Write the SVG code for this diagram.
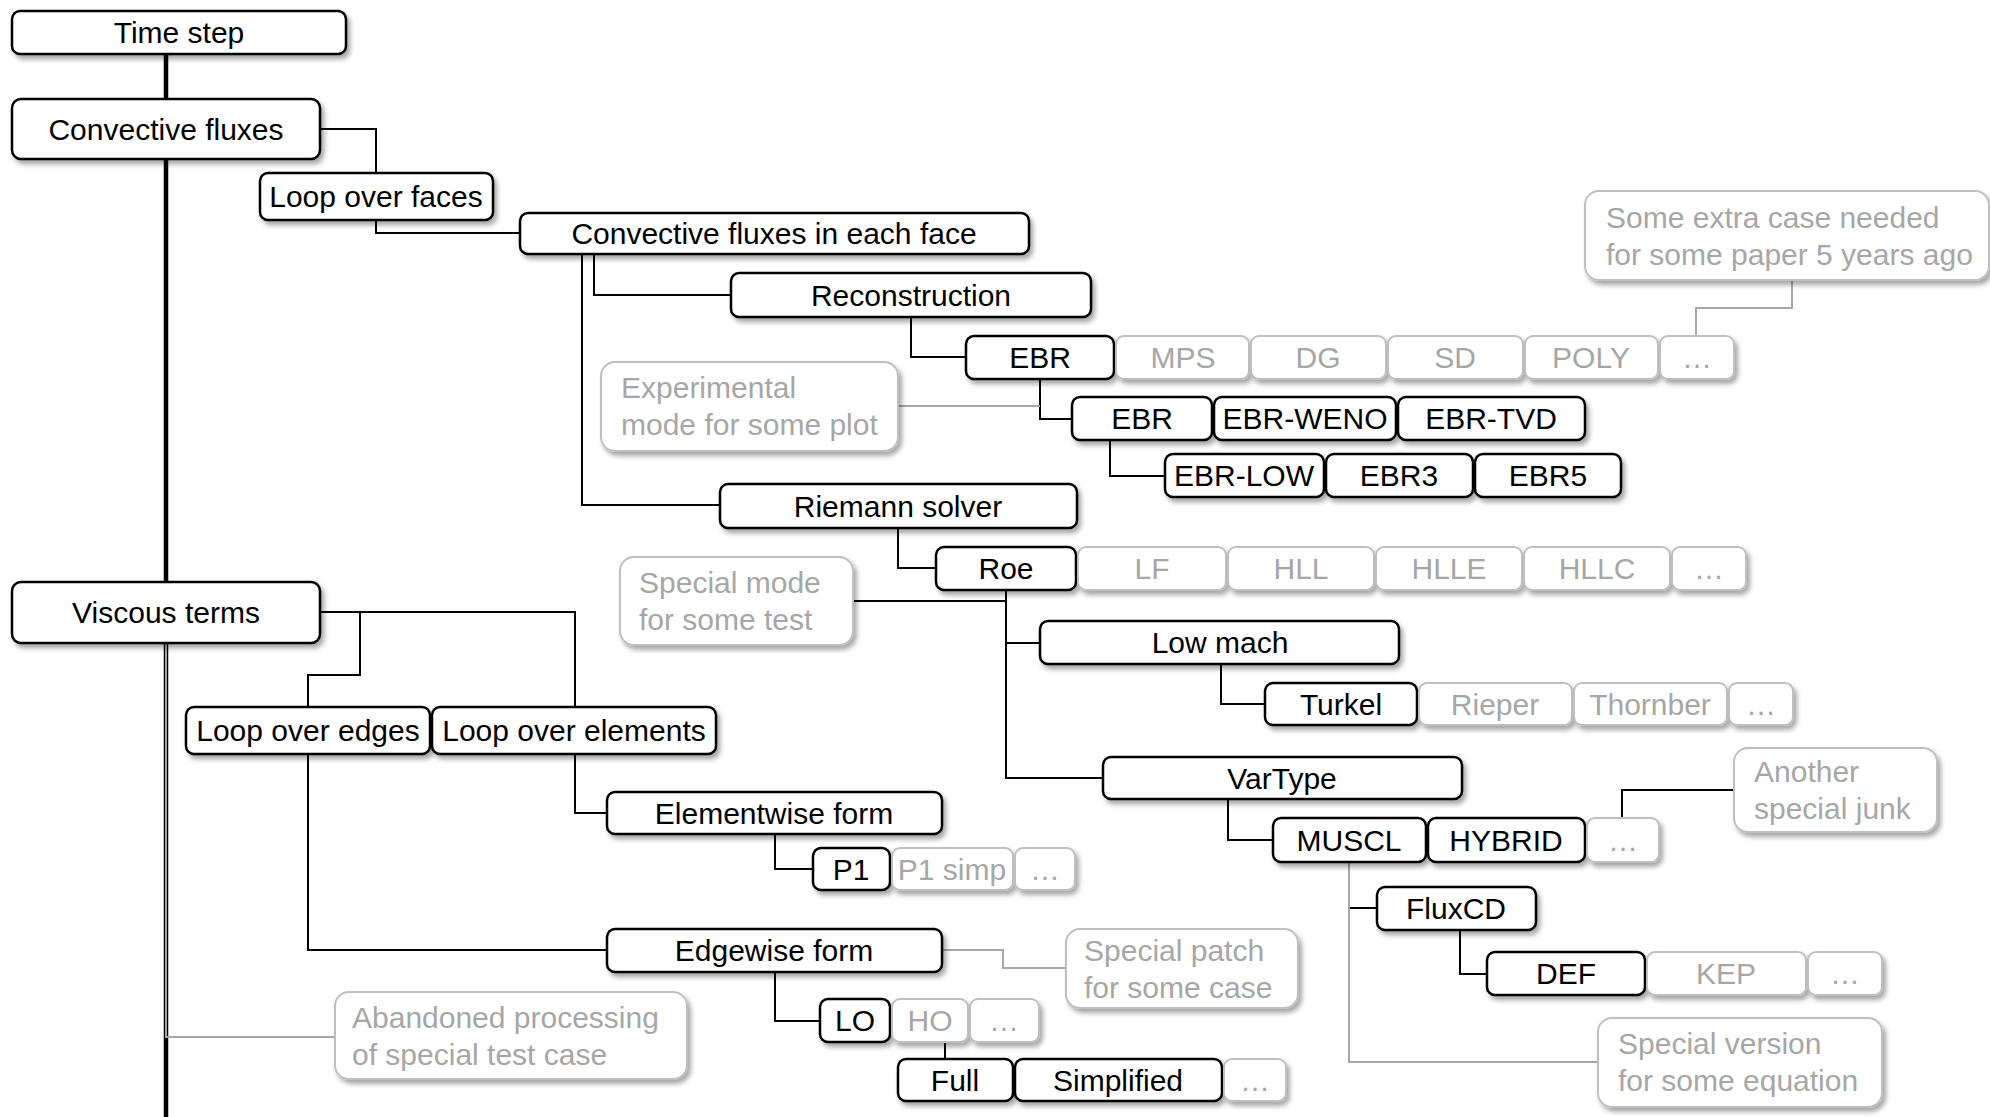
<svg xmlns="http://www.w3.org/2000/svg" width="1990" height="1117" viewBox="0 0 1990 1117">
<defs>
<filter id="sh" x="-10%" y="-20%" width="125%" height="160%">
<feDropShadow dx="3" dy="4" stdDeviation="2.5" flood-color="#000" flood-opacity="0.35"/>
</filter>
<style>
.b{fill:#fff;stroke:#000;stroke-width:2.5;filter:url(#sh)}
.g{fill:#fff;stroke:#bfbfbf;stroke-width:2;filter:url(#sh)}
text{font-family:"Liberation Sans",Arial,sans-serif;font-size:30px}
.tb{fill:#000;text-anchor:middle}
.tg{fill:#a6a6a6;text-anchor:middle}
.tl{fill:#a6a6a6;text-anchor:start}
.c{fill:none;stroke:#000;stroke-width:2}
.cg{fill:none;stroke:#a6a6a6;stroke-width:2}
</style>
</defs>
<rect width="1990" height="1117" fill="#fff"/>

<g id="connectors">
<path d="M166,54 V1117" fill="none" stroke="#000" stroke-width="4.5"/>
<path class="cg" d="M166,643 V1037 H335"/>
<path class="c" d="M320,129 H376 V173"/>
<path class="c" d="M376,220 V233 H520"/>
<path class="c" d="M594,254 V295 H731"/>
<path class="c" d="M582,254 V505 H720"/>
<path class="c" d="M911,317 V357 H966"/>
<path class="c" d="M1040,379 V419 H1072"/>
<path class="c" d="M1110,440 V476 H1165"/>
<path class="cg" d="M898,406 H1040"/>
<path class="cg" d="M1792,280 V308 H1696 V335"/>
<path class="c" d="M898,528 V568 H936"/>
<path class="c" d="M1006,590 V778 H1103"/>
<path class="c" d="M1006,643 H1040"/>
<path class="c" d="M853,601 H1006"/>
<path class="c" d="M1221,664 V704 H1265"/>
<path class="c" d="M1228,799 V840 H1273"/>
<path class="c" d="M1622,818 V790 H1734"/>
<path class="c" d="M1349,862 V908 H1377"/>
<path class="cg" d="M1349,862 V1062 H1598"/>
<path class="c" d="M1460,930 V974 H1487"/>
<path class="c" d="M320,612 H575 V707"/>
<path class="c" d="M360,612 V675 H308 V707"/>
<path class="c" d="M575,754 V813 H607"/>
<path class="c" d="M775,834 V869 H813"/>
<path class="c" d="M308,754 V950 H607"/>
<path class="c" d="M775,972 V1021 H820"/>
<path class="cg" d="M942,950 H1003 V968 H1066"/>
<path class="c" d="M945,1042 V1059"/>
</g>

<g id="time-step"><rect class="b" x="12" y="11" width="334" height="43" rx="8"/><text class="tb" x="179" y="43">Time step</text></g>
<g id="convective-fluxes"><rect class="b" x="12" y="99" width="308" height="60" rx="9"/><text class="tb" x="166" y="140">Convective fluxes</text></g>
<g id="loop-over-faces"><rect class="b" x="260" y="173" width="233" height="47" rx="8"/><text class="tb" x="376" y="207">Loop over faces</text></g>
<g id="conv-each-face"><rect class="b" x="520" y="213" width="509" height="41" rx="8"/><text class="tb" x="774" y="244">Convective fluxes in each face</text></g>
<g id="reconstruction"><rect class="b" x="731" y="273" width="360" height="44" rx="8"/><text class="tb" x="911" y="306">Reconstruction</text></g>

<g id="rec-ebr"><rect class="b" x="966" y="336" width="148" height="43" rx="8"/><text class="tb" x="1040" y="368">EBR</text></g>
<g id="rec-mps"><rect class="g" x="1116" y="336" width="133" height="43" rx="8"/><text class="tg" x="1183" y="368">MPS</text></g>
<g id="rec-dg"><rect class="g" x="1251" y="336" width="135" height="43" rx="8"/><text class="tg" x="1318" y="368">DG</text></g>
<g id="rec-sd"><rect class="g" x="1388" y="336" width="135" height="43" rx="8"/><text class="tg" x="1455" y="368">SD</text></g>
<g id="rec-poly"><rect class="g" x="1525" y="336" width="133" height="43" rx="8"/><text class="tg" x="1591" y="368">POLY</text></g>
<g id="rec-more"><rect class="g" x="1660" y="336" width="74" height="43" rx="8"/><text class="tg" x="1697" y="368">…</text></g>

<g id="ebr-ebr"><rect class="b" x="1072" y="397" width="140" height="43" rx="8"/><text class="tb" x="1142" y="429">EBR</text></g>
<g id="ebr-weno"><rect class="b" x="1214" y="397" width="182" height="43" rx="8"/><text class="tb" x="1305" y="429">EBR-WENO</text></g>
<g id="ebr-tvd"><rect class="b" x="1398" y="397" width="187" height="43" rx="8"/><text class="tb" x="1491" y="429">EBR-TVD</text></g>
<g id="ebr-low"><rect class="b" x="1165" y="454" width="159" height="43" rx="8"/><text class="tb" x="1244" y="486">EBR-LOW</text></g>
<g id="ebr3"><rect class="b" x="1326" y="454" width="147" height="43" rx="8"/><text class="tb" x="1399" y="486">EBR3</text></g>
<g id="ebr5"><rect class="b" x="1475" y="454" width="146" height="43" rx="8"/><text class="tb" x="1548" y="486">EBR5</text></g>

<g id="note-experimental"><rect class="g" x="601" y="362" width="297" height="89" rx="14"/><text class="tl" x="621" y="398">Experimental</text><text class="tl" x="621" y="435">mode for some plot</text></g>
<g id="note-extra-case"><rect class="g" x="1585" y="191" width="404" height="89" rx="14"/><text class="tl" x="1606" y="228">Some extra case needed</text><text class="tl" x="1606" y="265">for some paper 5 years ago</text></g>

<g id="riemann-solver"><rect class="b" x="720" y="484" width="357" height="44" rx="8"/><text class="tb" x="898" y="517">Riemann solver</text></g>
<g id="roe"><rect class="b" x="936" y="547" width="140" height="43" rx="8"/><text class="tb" x="1006" y="579">Roe</text></g>
<g id="lf"><rect class="g" x="1078" y="547" width="148" height="43" rx="8"/><text class="tg" x="1152" y="579">LF</text></g>
<g id="hll"><rect class="g" x="1228" y="547" width="146" height="43" rx="8"/><text class="tg" x="1301" y="579">HLL</text></g>
<g id="hlle"><rect class="g" x="1376" y="547" width="146" height="43" rx="8"/><text class="tg" x="1449" y="579">HLLE</text></g>
<g id="hllc"><rect class="g" x="1524" y="547" width="146" height="43" rx="8"/><text class="tg" x="1597" y="579">HLLC</text></g>
<g id="riemann-more"><rect class="g" x="1672" y="547" width="74" height="43" rx="8"/><text class="tg" x="1709" y="579">…</text></g>
<g id="note-special-mode"><rect class="g" x="620" y="557" width="233" height="88" rx="14"/><text class="tl" x="639" y="593">Special mode</text><text class="tl" x="639" y="630">for some test</text></g>

<g id="low-mach"><rect class="b" x="1040" y="621" width="359" height="43" rx="8"/><text class="tb" x="1220" y="653">Low mach</text></g>
<g id="turkel"><rect class="b" x="1265" y="683" width="152" height="42" rx="8"/><text class="tb" x="1341" y="715">Turkel</text></g>
<g id="rieper"><rect class="g" x="1419" y="683" width="153" height="42" rx="8"/><text class="tg" x="1495" y="715">Rieper</text></g>
<g id="thornber"><rect class="g" x="1574" y="683" width="153" height="42" rx="8"/><text class="tg" x="1650" y="715">Thornber</text></g>
<g id="lowmach-more"><rect class="g" x="1729" y="683" width="64" height="42" rx="8"/><text class="tg" x="1761" y="715">…</text></g>

<g id="vartype"><rect class="b" x="1103" y="757" width="359" height="42" rx="8"/><text class="tb" x="1282" y="789">VarType</text></g>
<g id="muscl"><rect class="b" x="1273" y="818" width="153" height="44" rx="8"/><text class="tb" x="1349" y="851">MUSCL</text></g>
<g id="hybrid"><rect class="b" x="1428" y="818" width="157" height="44" rx="8"/><text class="tb" x="1506" y="851">HYBRID</text></g>
<g id="vartype-more"><rect class="g" x="1587" y="818" width="72" height="44" rx="8"/><text class="tg" x="1623" y="851">…</text></g>
<g id="note-another"><rect class="g" x="1734" y="748" width="203" height="84" rx="14"/><text class="tl" x="1754" y="782">Another</text><text class="tl" x="1754" y="819">special junk</text></g>

<g id="fluxcd"><rect class="b" x="1377" y="887" width="159" height="43" rx="8"/><text class="tb" x="1456" y="919">FluxCD</text></g>
<g id="def"><rect class="b" x="1487" y="952" width="158" height="43" rx="8"/><text class="tb" x="1566" y="984">DEF</text></g>
<g id="kep"><rect class="g" x="1647" y="952" width="159" height="43" rx="8"/><text class="tg" x="1726" y="984">KEP</text></g>
<g id="fluxcd-more"><rect class="g" x="1808" y="952" width="74" height="43" rx="8"/><text class="tg" x="1845" y="984">…</text></g>
<g id="note-special-version"><rect class="g" x="1598" y="1018" width="284" height="89" rx="14"/><text class="tl" x="1618" y="1054">Special version</text><text class="tl" x="1618" y="1091">for some equation</text></g>

<g id="viscous-terms"><rect class="b" x="12" y="582" width="308" height="61" rx="9"/><text class="tb" x="166" y="623">Viscous terms</text></g>
<g id="loop-over-edges"><rect class="b" x="186" y="707" width="244" height="47" rx="8"/><text class="tb" x="308" y="741">Loop over edges</text></g>
<g id="loop-over-elements"><rect class="b" x="432" y="707" width="284" height="47" rx="8"/><text class="tb" x="574" y="741">Loop over elements</text></g>
<g id="elementwise-form"><rect class="b" x="607" y="792" width="335" height="42" rx="8"/><text class="tb" x="774" y="824">Elementwise form</text></g>
<g id="p1"><rect class="b" x="813" y="848" width="77" height="42" rx="8"/><text class="tb" x="851" y="880">P1</text></g>
<g id="p1-simp"><rect class="g" x="892" y="848" width="121" height="42" rx="8"/><text class="tg" x="952" y="880">P1 simp</text></g>
<g id="elem-more"><rect class="g" x="1015" y="848" width="60" height="42" rx="8"/><text class="tg" x="1045" y="880">…</text></g>

<g id="edgewise-form"><rect class="b" x="607" y="929" width="335" height="43" rx="8"/><text class="tb" x="774" y="961">Edgewise form</text></g>
<g id="note-special-patch"><rect class="g" x="1066" y="929" width="232" height="79" rx="14"/><text class="tl" x="1084" y="961">Special patch</text><text class="tl" x="1084" y="998">for some case</text></g>
<g id="lo"><rect class="b" x="820" y="999" width="70" height="43" rx="8"/><text class="tb" x="855" y="1031">LO</text></g>
<g id="ho"><rect class="g" x="892" y="999" width="76" height="43" rx="8"/><text class="tg" x="930" y="1031">HO</text></g>
<g id="edge-more"><rect class="g" x="970" y="999" width="69" height="43" rx="8"/><text class="tg" x="1004" y="1031">…</text></g>
<g id="full"><rect class="b" x="898" y="1059" width="115" height="42" rx="8"/><text class="tb" x="955" y="1091">Full</text></g>
<g id="simplified"><rect class="b" x="1015" y="1059" width="207" height="42" rx="8"/><text class="tb" x="1118" y="1091">Simplified</text></g>
<g id="ho-more"><rect class="g" x="1224" y="1059" width="62" height="42" rx="8"/><text class="tg" x="1255" y="1091">…</text></g>
<g id="note-abandoned"><rect class="g" x="335" y="992" width="352" height="87" rx="14"/><text class="tl" x="352" y="1028">Abandoned processing</text><text class="tl" x="352" y="1065">of special test case</text></g>
</svg>
